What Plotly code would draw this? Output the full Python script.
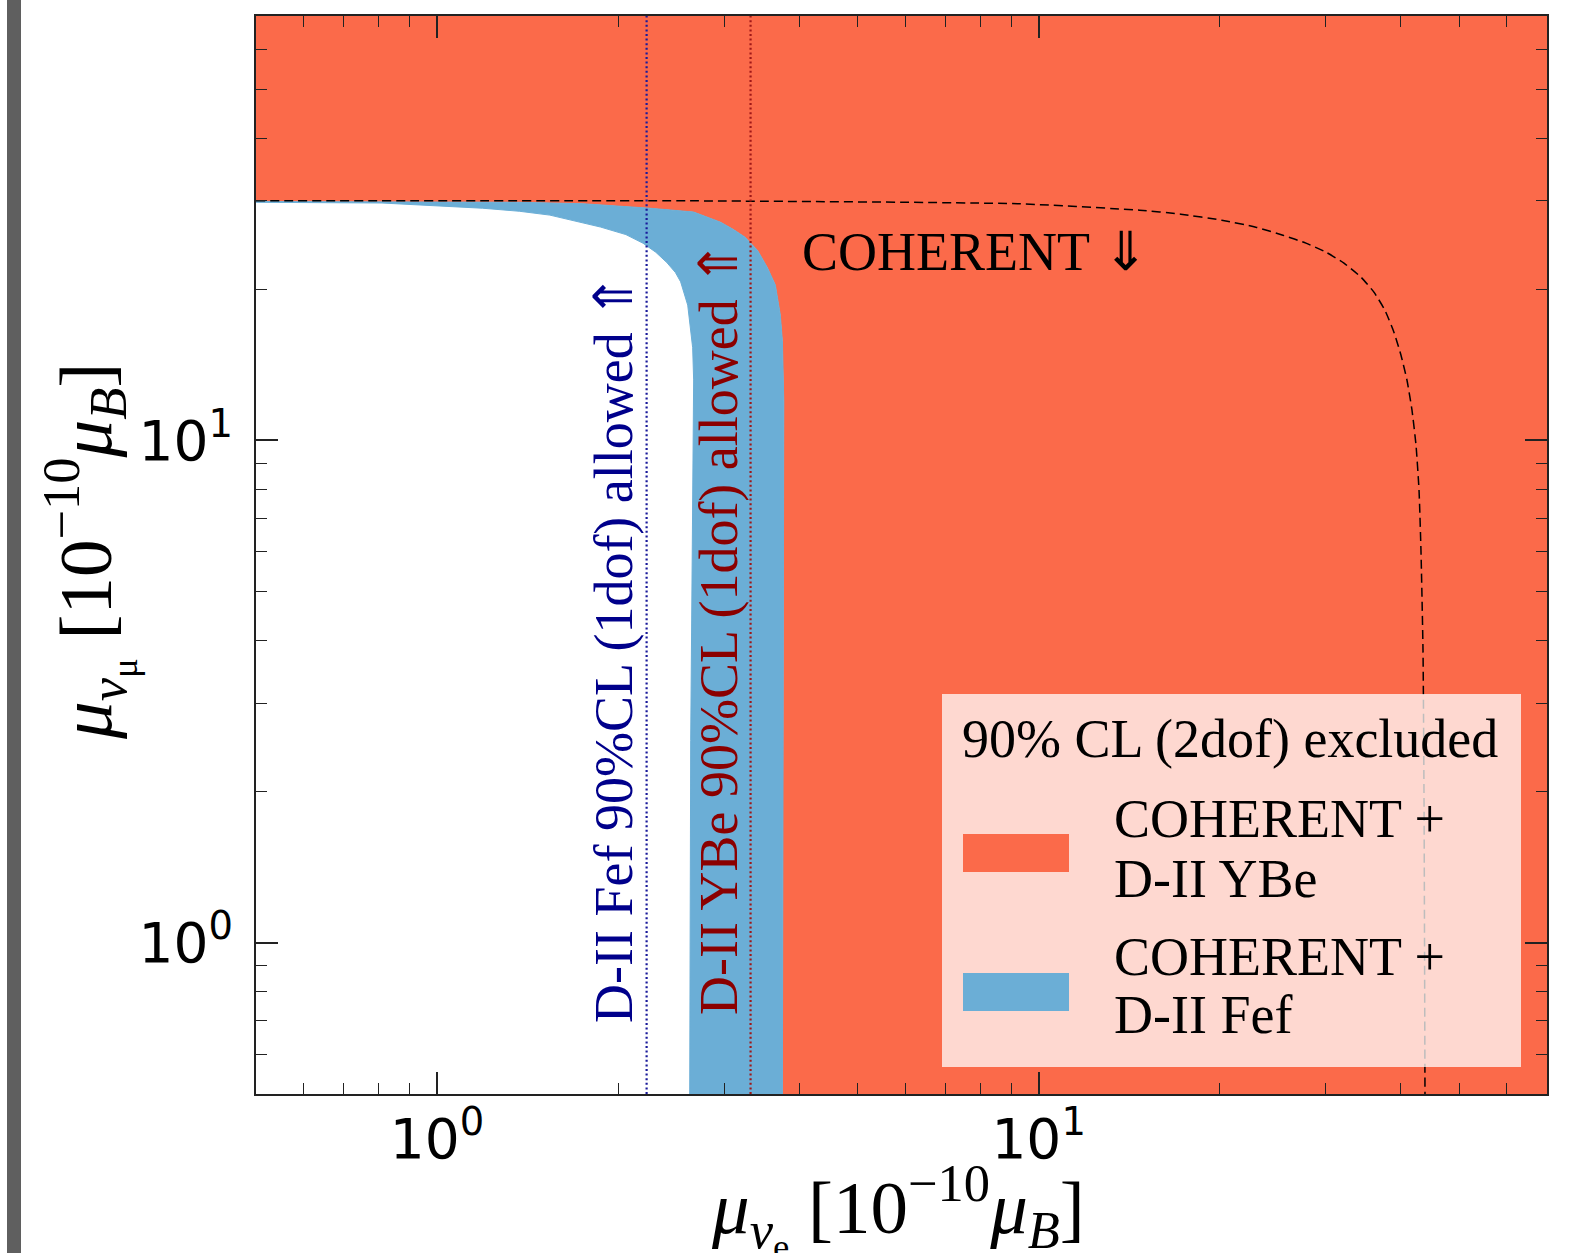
import math
import plotly.graph_objects as go

# Axis limits (units of 1e-10 Bohr magnetons)
X_LIM = [0.5, 70.0]
Y_LIM = [0.5, 70.0]

# COHERENT + D-II YBe, 90% CL (2 dof) boundary of the allowed region
ybe_mu_e = [0.5, 1.36, 1.75, 2.26, 2.67, 2.96, 3.11, 3.25, 3.41, 3.54, 3.65, 3.72, 3.75, 3.77, 3.75]
ybe_mu_mu = [29.9, 29.8, 29.6, 29.0, 28.5, 27.2, 26.3, 25.4, 23.9, 22.1, 20.4, 17.8, 15.8, 12.0, 0.5]

# COHERENT + D-II Fef, 90% CL (2 dof) boundary of the allowed region
fef_mu_e = [0.5, 0.81, 1.19, 1.37, 1.54, 1.70, 1.87, 2.06, 2.20, 2.31, 2.41, 2.49, 2.54,
            2.61, 2.66, 2.67, 2.66, 2.64, 2.63]
fef_mu_mu = [29.8, 29.7, 29.0, 28.6, 28.1, 27.3, 26.6, 25.7, 24.7, 23.7, 22.6, 21.6, 20.7,
             18.6, 15.3, 13.2, 7.6, 2.53, 0.5]

# COHERENT alone (dashed contour)
coh_mu_e = [0.5, 2.64, 9.23, 14.72, 17.23, 20.16, 22.96, 25.47, 27.82, 30.03, 32.18, 34.35,
            36.09, 37.64, 38.96, 40.03, 40.96, 41.75, 42.40, 42.89, 43.21, 43.55, 43.72, 43.88]
coh_mu_mu = [30.0, 30.0, 29.6, 28.74, 28.22, 27.45, 26.59, 25.63, 24.71, 23.71, 22.54, 21.14,
             19.74, 18.17, 16.43, 14.78, 13.18, 11.49, 9.78, 7.96, 6.04, 3.82, 1.92, 0.5]

# 1-dof 90% CL limits on mu_nu_e from Dresden-II alone
FEF_1DOF = 2.23
YBE_1DOF = 3.32

MAJOR_TICKS = [1, 10]
MAJOR_TEXT = ["10<sup>0</sup>", "10<sup>1</sup>"]
MINOR_TICKS = [0.5, 0.6, 0.7, 0.8, 0.9, 2, 3, 4, 5, 6, 7, 8, 9, 20, 30, 40, 50, 60, 70]

ORANGE = "#fb6a4a"
BLUE = "#6baed6"
SERIF = "Liberation Serif"

fig = go.Figure()

# Region excluded by COHERENT + D-II YBe: everything outside the YBe contour
fig.add_trace(go.Scatter(
    x=ybe_mu_e + [X_LIM[1], X_LIM[1], X_LIM[0]],
    y=ybe_mu_mu + [Y_LIM[0], Y_LIM[1], Y_LIM[1]],
    mode="lines", fill="toself", fillcolor=ORANGE,
    line=dict(width=0, color=ORANGE), hoverinfo="skip", showlegend=False))

# Extra region excluded by COHERENT + D-II Fef: between the two contours
fig.add_trace(go.Scatter(
    x=ybe_mu_e + fef_mu_e[::-1],
    y=ybe_mu_mu + fef_mu_mu[::-1],
    mode="lines", fill="toself", fillcolor=BLUE,
    line=dict(width=1, color=BLUE), hoverinfo="skip", showlegend=False))

# COHERENT-only contour
fig.add_trace(go.Scatter(
    x=coh_mu_e, y=coh_mu_mu, mode="lines",
    line=dict(color="black", width=1.5, dash="9px,5px", shape="spline", smoothing=0.5),
    hoverinfo="skip", showlegend=False))

# Dresden-II 1-dof limits
fig.add_trace(go.Scatter(
    x=[FEF_1DOF, FEF_1DOF], y=Y_LIM, mode="lines",
    line=dict(color="#1a1a9a", width=2.2, dash="2px,2.6px"),
    hoverinfo="skip", showlegend=False))
fig.add_trace(go.Scatter(
    x=[YBE_1DOF, YBE_1DOF], y=Y_LIM, mode="lines",
    line=dict(color="#a01818", width=2.2, dash="2px,2.6px"),
    hoverinfo="skip", showlegend=False))

W, H = 1578, 1253
L, R, T, B = 256, 31, 16, 159
PW, PH = W - L - R, H - T - B


def px(x):
    return (x - L) / PW


def py(y):
    return (H - B - y) / PH


annotations = []


def text(x, y, s, size, color="black", family=SERIF, angle=0, xanchor="center", yanchor="middle"):
    annotations.append(dict(
        x=px(x), y=py(y), xref="paper", yref="paper", text=s, showarrow=False,
        textangle=angle, xanchor=xanchor, yanchor=yanchor,
        font=dict(family=family, size=size, color=color)))


text(800, 252, "COHERENT ⇓", 54, xanchor="left")
text(614, 649, "D-II Fef 90%CL (1dof) allowed ⇑", 54, color="#00008b", angle=-90)
text(719, 628, "D-II YBe 90%CL (1dof) allowed ⇑", 54, color="#8b0000", angle=-90)

# Legend
text(1230, 739, "90% CL (2dof) excluded", 54)
text(1112, 819, "COHERENT +", 54, xanchor="left")
text(1112, 879, "D-II YBe", 54, xanchor="left")
text(1112, 957, "COHERENT +", 54, xanchor="left")
text(1112, 1015, "D-II Fef", 54, xanchor="left")

# Axis titles
text(898, 1210, "<i>μ</i><sub><i>ν</i><sub>e</sub></sub> [10<sup>−10</sup><i>μ</i><sub><i>B</i></sub>]", 75)
text(88, 552, "<i>μ</i><sub><i>ν</i><sub>μ</sub></sub> [10<sup>−10</sup><i>μ</i><sub><i>B</i></sub>]", 75, angle=-90)

shapes = [
    # legend frame and patches
    dict(type="rect", xref="paper", yref="paper", x0=px(942), x1=px(1521), y0=py(1067), y1=py(694),
         fillcolor="rgba(255,255,255,0.74)", line=dict(width=0), layer="above"),
    dict(type="rect", xref="paper", yref="paper", x0=px(963), x1=px(1069), y0=py(872), y1=py(834),
         fillcolor=ORANGE, line=dict(width=0), layer="above"),
    dict(type="rect", xref="paper", yref="paper", x0=px(963), x1=px(1069), y0=py(1011), y1=py(973),
         fillcolor=BLUE, line=dict(width=0), layer="above"),
    # page edge strip
    dict(type="rect", xref="paper", yref="paper", x0=px(7), x1=px(21), y0=py(H), y1=py(0),
         fillcolor="#5f5f5f", line=dict(width=0), layer="above"),
]

axis_common = dict(
    type="log", showgrid=False, zeroline=False,
    showline=True, linecolor="#222", linewidth=2, mirror="ticks",
    ticks="inside", ticklen=22, tickwidth=1.5, tickcolor="#222",
    tickmode="array", tickvals=MAJOR_TICKS, ticktext=MAJOR_TEXT,
    tickfont=dict(family="DejaVu Sans", size=55, color="black"),
    minor=dict(ticks="inside", ticklen=11, tickwidth=1.2, tickcolor="#222",
               tickmode="array", tickvals=MINOR_TICKS, showgrid=False),
)

fig.update_layout(
    width=W, height=H,
    margin=dict(l=L, r=R, t=T, b=B, autoexpand=False),
    paper_bgcolor="white", plot_bgcolor="white",
    xaxis=dict(range=[math.log10(X_LIM[0]), math.log10(X_LIM[1])], ticklabelstandoff=-4, **axis_common),
    yaxis=dict(range=[math.log10(Y_LIM[0]), math.log10(Y_LIM[1])], ticklabelstandoff=10, **axis_common),
    annotations=annotations, shapes=shapes, showlegend=False,
)

fig.write_html("out.html")
